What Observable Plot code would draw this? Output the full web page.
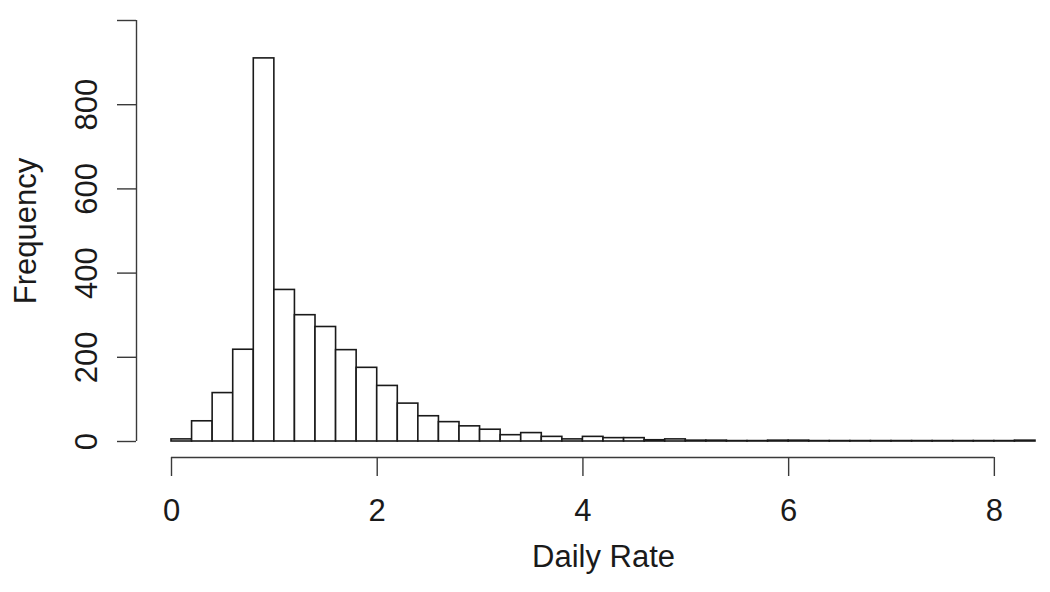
<!DOCTYPE html>
<html>
<head>
<meta charset="utf-8">
<script src="https://cdn.jsdelivr.net/npm/d3@7"></script>
<script src="https://cdn.jsdelivr.net/npm/@observablehq/plot@0.6"></script>
<style>
  html, body { margin: 0; padding: 0; background: #fff; }
  #chart svg { display: block; }
</style>
</head>
<body>
<div id="chart"></div>
<script>
// Histogram bins (Daily Rate), width 0.2
const binStart = [0.0,0.2,0.4,0.6,0.8,1.0,1.2,1.4,1.6,1.8,2.0,2.2,2.4,2.6,2.8,3.0,3.2,3.4,3.6,3.8,
                  4.0,4.2,4.4,4.6,4.8,5.0,5.2,5.4,5.6,5.8,6.0,6.2,6.4,6.6,6.8,7.0,7.2,7.4,7.6,7.8,8.0,8.2];
const binWidth = 0.2;
const counts = [5,48,115,218,910,360,300,272,217,175,132,90,60,46,36,28,15,20,11,5,
                11,8,8,3,5,2,2,1,1,2,2,1,1,1,1,1,1,1,1,1,1,2];
const xTicks = [0, 2, 4, 6, 8];
const yTicks = [0, 200, 400, 600, 800, 1000];
const xLabel = "Daily Rate";
const yLabel = "Frequency";

const bins = binStart.map((x0, i) => ({x1: x0, x2: +(x0 + binWidth).toFixed(1), count: counts[i]}));

const axisColor = "#3a3a3a";
const chart = Plot.plot({
  width: 1050,
  height: 592,
  marginTop: 20,
  marginBottom: 151,
  marginLeft: 171,
  marginRight: 15,
  style: {fontFamily: "'Liberation Sans', Arial, Helvetica, sans-serif", fontSize: "31px", color: "#1a1a1a", background: "#fff"},
  x: {domain: [0, 8.4], axis: null},
  y: {domain: [0, 1000], axis: null},
  marks: [
    Plot.rectY(bins, {x1: "x1", x2: "x2", y: "count", fill: "white", stroke: "#1a1a1a", strokeWidth: 1.6}),
    // x axis (offset below the bars, R style)
    Plot.ruleY([0], {x1: xTicks[0], x2: xTicks[xTicks.length - 1], dy: 16, stroke: axisColor, strokeWidth: 1.4}),
    Plot.axisX(xTicks, {anchor: "bottom", tickSize: 19, dy: 16, tickPadding: 22, fontSize: 31, stroke: axisColor, strokeWidth: 1.4, label: null, tickFormat: d => d}),
    // y axis (offset left)
    Plot.ruleX([0], {y1: yTicks[0], y2: yTicks[yTicks.length - 1], dx: -35, stroke: axisColor, strokeWidth: 1.4}),
    Plot.axisY(yTicks, {anchor: "left", tickSize: 19, dx: -35, tickPadding: 21, tickRotate: -90, fontSize: 31, stroke: axisColor, strokeWidth: 1.4, label: null, tickFormat: d => d === 1000 ? "" : d}),
    // axis titles
    Plot.text([xLabel], {frameAnchor: "bottom", textAnchor: "middle", lineAnchor: "middle", dy: 116, fontSize: 31, fill: "#1a1a1a"}),
    Plot.text([yLabel], {frameAnchor: "left", textAnchor: "middle", lineAnchor: "middle", dx: -145, rotate: -90, fontSize: 31, fill: "#1a1a1a"})
  ]
});
document.getElementById("chart").appendChild(chart);
</script>
</body>
</html>
